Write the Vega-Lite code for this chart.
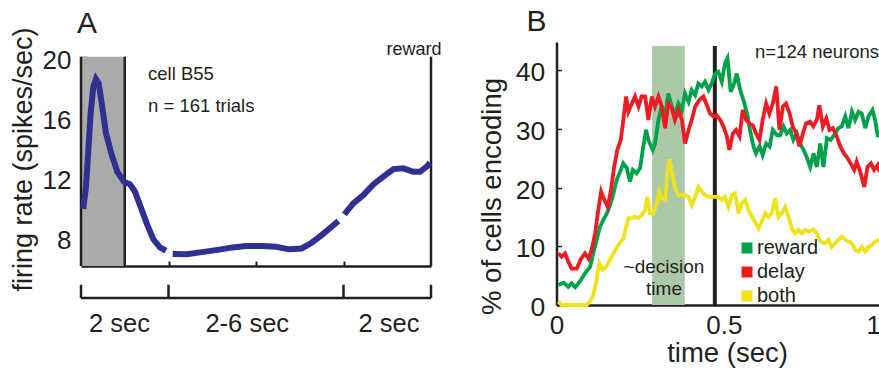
{
  "$schema": "https://vega.github.io/schema/vega-lite/v6.json",
  "autosize": "none",
  "padding": {"left": 81, "top": 42, "right": 798, "bottom": 329},
  "bounds": "flush",
  "spacing": 125.5,
  "config": {
    "view": {"stroke": null},
    "font": "Liberation Sans",
    "axis": {"grid": false, "labelFont": "Liberation Sans", "titleFont": "Liberation Sans", "labelColor": "#231f20", "titleColor": "#231f20", "tickColor": "#231f20", "domainColor": "#231f20", "titleFontWeight": "normal"},
    "title": {"font": "Liberation Sans", "fontWeight": "normal", "color": "#231f20"}
  },
  "datasets": {
    "cellB55": [
      {"seg": 1, "time": 0.025, "rate": 9.85}, {"seg": 1, "time": 0.057, "rate": 11.33}, {"seg": 1, "time": 0.084, "rate": 13.78}, {"seg": 1, "time": 0.110, "rate": 16.22}, {"seg": 1, "time": 0.141, "rate": 18.0}, {"seg": 1, "time": 0.171, "rate": 18.51}, {"seg": 1, "time": 0.202, "rate": 18.23}, {"seg": 1, "time": 0.237, "rate": 16.89}, {"seg": 1, "time": 0.286, "rate": 14.89}, {"seg": 1, "time": 0.351, "rate": 13.45}, {"seg": 1, "time": 0.415, "rate": 12.33}, {"seg": 1, "time": 0.491, "rate": 11.67}, {"seg": 1, "time": 0.56, "rate": 11.49}, {"seg": 1, "time": 0.617, "rate": 11.0}, {"seg": 1, "time": 0.674, "rate": 10.11}, {"seg": 1, "time": 0.751, "rate": 8.89}, {"seg": 1, "time": 0.827, "rate": 7.83}, {"seg": 1, "time": 0.903, "rate": 7.29}, {"seg": 1, "time": 0.971, "rate": 7.07},
      {"seg": 2, "time": 1.048, "rate": 6.85}, {"seg": 2, "time": 1.208, "rate": 6.83}, {"seg": 2, "time": 1.36, "rate": 6.96}, {"seg": 2, "time": 1.543, "rate": 7.11}, {"seg": 2, "time": 1.733, "rate": 7.29}, {"seg": 2, "time": 1.886, "rate": 7.38}, {"seg": 2, "time": 2.075, "rate": 7.38}, {"seg": 2, "time": 2.229, "rate": 7.33}, {"seg": 2, "time": 2.379, "rate": 7.16}, {"seg": 2, "time": 2.522, "rate": 7.22}, {"seg": 2, "time": 2.636, "rate": 7.6}, {"seg": 2, "time": 2.75, "rate": 8.11}, {"seg": 2, "time": 2.865, "rate": 8.67}, {"seg": 2, "time": 2.941, "rate": 9.05},
      {"seg": 3, "time": 3.01, "rate": 9.49}, {"seg": 3, "time": 3.112, "rate": 10.22}, {"seg": 3, "time": 3.227, "rate": 10.78}, {"seg": 3, "time": 3.341, "rate": 11.49}, {"seg": 3, "time": 3.455, "rate": 12.0}, {"seg": 3, "time": 3.57, "rate": 12.51}, {"seg": 3, "time": 3.684, "rate": 12.56}, {"seg": 3, "time": 3.798, "rate": 12.33}, {"seg": 3, "time": 3.874, "rate": 12.33}, {"seg": 3, "time": 3.951, "rate": 12.67}, {"seg": 3, "time": 3.989, "rate": 12.93}
    ],
    "encoding": [
      {"type": "reward", "t": 0.006, "pct": 3.4}, {"type": "reward", "t": 0.022, "pct": 3.8}, {"type": "reward", "t": 0.037, "pct": 3.1}, {"type": "reward", "t": 0.048, "pct": 3.7}, {"type": "reward", "t": 0.059, "pct": 3.0}, {"type": "reward", "t": 0.074, "pct": 4.0}, {"type": "reward", "t": 0.090, "pct": 5.4}, {"type": "reward", "t": 0.106, "pct": 6.5}, {"type": "reward", "t": 0.116, "pct": 8.8}, {"type": "reward", "t": 0.127, "pct": 11.1}, {"type": "reward", "t": 0.137, "pct": 13.3}, {"type": "reward", "t": 0.148, "pct": 14.5}, {"type": "reward", "t": 0.159, "pct": 15.6}, {"type": "reward", "t": 0.169, "pct": 17.0}, {"type": "reward", "t": 0.180, "pct": 19.0}, {"type": "reward", "t": 0.190, "pct": 21.3}, {"type": "reward", "t": 0.201, "pct": 22.7}, {"type": "reward", "t": 0.211, "pct": 24.1}, {"type": "reward", "t": 0.222, "pct": 23.3}, {"type": "reward", "t": 0.232, "pct": 21.0}, {"type": "reward", "t": 0.241, "pct": 23.0}, {"type": "reward", "t": 0.253, "pct": 22.4}, {"type": "reward", "t": 0.264, "pct": 23.3}, {"type": "reward", "t": 0.274, "pct": 27.0}, {"type": "reward", "t": 0.283, "pct": 29.8}, {"type": "reward", "t": 0.290, "pct": 28.1}, {"type": "reward", "t": 0.304, "pct": 26.4}, {"type": "reward", "t": 0.311, "pct": 27.5}, {"type": "reward", "t": 0.322, "pct": 31.5}, {"type": "reward", "t": 0.332, "pct": 33.8}, {"type": "reward", "t": 0.343, "pct": 32.1}, {"type": "reward", "t": 0.353, "pct": 36.0}, {"type": "reward", "t": 0.364, "pct": 33.8}, {"type": "reward", "t": 0.374, "pct": 32.3}, {"type": "reward", "t": 0.385, "pct": 34.3}, {"type": "reward", "t": 0.396, "pct": 33.2}, {"type": "reward", "t": 0.406, "pct": 36.0}, {"type": "reward", "t": 0.417, "pct": 34.6}, {"type": "reward", "t": 0.427, "pct": 36.6}, {"type": "reward", "t": 0.438, "pct": 35.7}, {"type": "reward", "t": 0.448, "pct": 37.7}, {"type": "reward", "t": 0.459, "pct": 37.2}, {"type": "reward", "t": 0.469, "pct": 38.0}, {"type": "reward", "t": 0.480, "pct": 36.6}, {"type": "reward", "t": 0.490, "pct": 37.7}, {"type": "reward", "t": 0.501, "pct": 39.4}, {"type": "reward", "t": 0.511, "pct": 39.7}, {"type": "reward", "t": 0.522, "pct": 38.0}, {"type": "reward", "t": 0.532, "pct": 41.1}, {"type": "reward", "t": 0.540, "pct": 42.0}, {"type": "reward", "t": 0.550, "pct": 36.3}, {"type": "reward", "t": 0.561, "pct": 37.7}, {"type": "reward", "t": 0.569, "pct": 39.4}, {"type": "reward", "t": 0.580, "pct": 36.6}, {"type": "reward", "t": 0.592, "pct": 34.6}, {"type": "reward", "t": 0.603, "pct": 32.3}, {"type": "reward", "t": 0.611, "pct": 29.8}, {"type": "reward", "t": 0.622, "pct": 27.0}, {"type": "reward", "t": 0.630, "pct": 25.8}, {"type": "reward", "t": 0.641, "pct": 27.0}, {"type": "reward", "t": 0.651, "pct": 25.5}, {"type": "reward", "t": 0.662, "pct": 27.5}, {"type": "reward", "t": 0.673, "pct": 27.0}, {"type": "reward", "t": 0.683, "pct": 29.8}, {"type": "reward", "t": 0.696, "pct": 28.9}, {"type": "reward", "t": 0.706, "pct": 28.9}, {"type": "reward", "t": 0.717, "pct": 30.4}, {"type": "reward", "t": 0.727, "pct": 29.2}, {"type": "reward", "t": 0.738, "pct": 29.8}, {"type": "reward", "t": 0.748, "pct": 28.1}, {"type": "reward", "t": 0.759, "pct": 29.2}, {"type": "reward", "t": 0.769, "pct": 27.5}, {"type": "reward", "t": 0.780, "pct": 26.4}, {"type": "reward", "t": 0.790, "pct": 25.2}, {"type": "reward", "t": 0.801, "pct": 23.5}, {"type": "reward", "t": 0.812, "pct": 25.8}, {"type": "reward", "t": 0.822, "pct": 23.5}, {"type": "reward", "t": 0.833, "pct": 27.5}, {"type": "reward", "t": 0.843, "pct": 23.5}, {"type": "reward", "t": 0.854, "pct": 28.4}, {"type": "reward", "t": 0.866, "pct": 28.1}, {"type": "reward", "t": 0.880, "pct": 29.2}, {"type": "reward", "t": 0.890, "pct": 30.1}, {"type": "reward", "t": 0.901, "pct": 30.4}, {"type": "reward", "t": 0.912, "pct": 32.1}, {"type": "reward", "t": 0.922, "pct": 30.1}, {"type": "reward", "t": 0.933, "pct": 32.9}, {"type": "reward", "t": 0.943, "pct": 31.5}, {"type": "reward", "t": 0.954, "pct": 32.9}, {"type": "reward", "t": 0.964, "pct": 32.6}, {"type": "reward", "t": 0.975, "pct": 30.1}, {"type": "reward", "t": 0.985, "pct": 32.1}, {"type": "reward", "t": 0.998, "pct": 33.2}, {"type": "reward", "t": 1.006, "pct": 31.5}, {"type": "reward", "t": 1.014, "pct": 28.9}, {"type": "reward", "t": 1.020, "pct": 28.9},
      {"type": "delay", "t": 0.006, "pct": 8.8}, {"type": "delay", "t": 0.016, "pct": 8.2}, {"type": "delay", "t": 0.027, "pct": 8.8}, {"type": "delay", "t": 0.037, "pct": 7.4}, {"type": "delay", "t": 0.048, "pct": 6.2}, {"type": "delay", "t": 0.064, "pct": 6.2}, {"type": "delay", "t": 0.076, "pct": 7.7}, {"type": "delay", "t": 0.090, "pct": 8.8}, {"type": "delay", "t": 0.101, "pct": 7.9}, {"type": "delay", "t": 0.111, "pct": 9.4}, {"type": "delay", "t": 0.122, "pct": 12.2}, {"type": "delay", "t": 0.132, "pct": 16.2}, {"type": "delay", "t": 0.141, "pct": 19.3}, {"type": "delay", "t": 0.151, "pct": 17.9}, {"type": "delay", "t": 0.162, "pct": 16.7}, {"type": "delay", "t": 0.172, "pct": 19.6}, {"type": "delay", "t": 0.182, "pct": 23.5}, {"type": "delay", "t": 0.192, "pct": 26.4}, {"type": "delay", "t": 0.203, "pct": 28.1}, {"type": "delay", "t": 0.211, "pct": 31.5}, {"type": "delay", "t": 0.220, "pct": 35.5}, {"type": "delay", "t": 0.227, "pct": 32.9}, {"type": "delay", "t": 0.238, "pct": 34.3}, {"type": "delay", "t": 0.248, "pct": 35.5}, {"type": "delay", "t": 0.259, "pct": 33.8}, {"type": "delay", "t": 0.269, "pct": 35.5}, {"type": "delay", "t": 0.280, "pct": 35.5}, {"type": "delay", "t": 0.290, "pct": 31.5}, {"type": "delay", "t": 0.301, "pct": 35.5}, {"type": "delay", "t": 0.311, "pct": 33.8}, {"type": "delay", "t": 0.322, "pct": 35.5}, {"type": "delay", "t": 0.332, "pct": 33.8}, {"type": "delay", "t": 0.343, "pct": 30.1}, {"type": "delay", "t": 0.353, "pct": 34.3}, {"type": "delay", "t": 0.364, "pct": 33.5}, {"type": "delay", "t": 0.374, "pct": 31.5}, {"type": "delay", "t": 0.385, "pct": 33.2}, {"type": "delay", "t": 0.396, "pct": 31.5}, {"type": "delay", "t": 0.406, "pct": 27.5}, {"type": "delay", "t": 0.417, "pct": 29.8}, {"type": "delay", "t": 0.427, "pct": 31.5}, {"type": "delay", "t": 0.438, "pct": 33.8}, {"type": "delay", "t": 0.451, "pct": 34.9}, {"type": "delay", "t": 0.464, "pct": 35.5}, {"type": "delay", "t": 0.475, "pct": 34.0}, {"type": "delay", "t": 0.485, "pct": 32.6}, {"type": "delay", "t": 0.496, "pct": 32.1}, {"type": "delay", "t": 0.506, "pct": 32.3}, {"type": "delay", "t": 0.517, "pct": 31.5}, {"type": "delay", "t": 0.527, "pct": 30.4}, {"type": "delay", "t": 0.538, "pct": 28.7}, {"type": "delay", "t": 0.546, "pct": 26.4}, {"type": "delay", "t": 0.557, "pct": 29.2}, {"type": "delay", "t": 0.567, "pct": 29.8}, {"type": "delay", "t": 0.578, "pct": 28.7}, {"type": "delay", "t": 0.588, "pct": 33.2}, {"type": "delay", "t": 0.599, "pct": 31.5}, {"type": "delay", "t": 0.609, "pct": 30.9}, {"type": "delay", "t": 0.620, "pct": 30.6}, {"type": "delay", "t": 0.630, "pct": 29.2}, {"type": "delay", "t": 0.641, "pct": 28.1}, {"type": "delay", "t": 0.651, "pct": 31.5}, {"type": "delay", "t": 0.662, "pct": 34.3}, {"type": "delay", "t": 0.672, "pct": 32.6}, {"type": "delay", "t": 0.683, "pct": 34.3}, {"type": "delay", "t": 0.694, "pct": 37.2}, {"type": "delay", "t": 0.704, "pct": 29.8}, {"type": "delay", "t": 0.715, "pct": 33.8}, {"type": "delay", "t": 0.725, "pct": 34.3}, {"type": "delay", "t": 0.736, "pct": 32.6}, {"type": "delay", "t": 0.746, "pct": 30.4}, {"type": "delay", "t": 0.757, "pct": 29.2}, {"type": "delay", "t": 0.767, "pct": 27.0}, {"type": "delay", "t": 0.778, "pct": 29.2}, {"type": "delay", "t": 0.788, "pct": 30.9}, {"type": "delay", "t": 0.801, "pct": 31.2}, {"type": "delay", "t": 0.811, "pct": 30.4}, {"type": "delay", "t": 0.822, "pct": 31.5}, {"type": "delay", "t": 0.830, "pct": 34.0}, {"type": "delay", "t": 0.841, "pct": 30.4}, {"type": "delay", "t": 0.852, "pct": 31.8}, {"type": "delay", "t": 0.862, "pct": 29.8}, {"type": "delay", "t": 0.873, "pct": 30.1}, {"type": "delay", "t": 0.885, "pct": 28.7}, {"type": "delay", "t": 0.896, "pct": 27.0}, {"type": "delay", "t": 0.908, "pct": 25.8}, {"type": "delay", "t": 0.919, "pct": 25.0}, {"type": "delay", "t": 0.929, "pct": 24.1}, {"type": "delay", "t": 0.940, "pct": 23.0}, {"type": "delay", "t": 0.948, "pct": 24.4}, {"type": "delay", "t": 0.959, "pct": 22.7}, {"type": "delay", "t": 0.972, "pct": 20.1}, {"type": "delay", "t": 0.982, "pct": 23.5}, {"type": "delay", "t": 0.993, "pct": 24.1}, {"type": "delay", "t": 1.003, "pct": 23.0}, {"type": "delay", "t": 1.014, "pct": 23.8}, {"type": "delay", "t": 1.020, "pct": 22.7},
      {"type": "both", "t": 0.006, "pct": 0.6}, {"type": "both", "t": 0.016, "pct": 0.0}, {"type": "both", "t": 0.032, "pct": 0.0}, {"type": "both", "t": 0.095, "pct": 0.0}, {"type": "both", "t": 0.106, "pct": 0.6}, {"type": "both", "t": 0.116, "pct": 1.7}, {"type": "both", "t": 0.127, "pct": 4.3}, {"type": "both", "t": 0.135, "pct": 7.1}, {"type": "both", "t": 0.146, "pct": 6.0}, {"type": "both", "t": 0.156, "pct": 6.5}, {"type": "both", "t": 0.169, "pct": 7.7}, {"type": "both", "t": 0.180, "pct": 8.8}, {"type": "both", "t": 0.192, "pct": 9.9}, {"type": "both", "t": 0.203, "pct": 10.8}, {"type": "both", "t": 0.211, "pct": 11.3}, {"type": "both", "t": 0.220, "pct": 13.3}, {"type": "both", "t": 0.227, "pct": 14.8}, {"type": "both", "t": 0.238, "pct": 14.8}, {"type": "both", "t": 0.248, "pct": 15.0}, {"type": "both", "t": 0.259, "pct": 14.8}, {"type": "both", "t": 0.269, "pct": 15.3}, {"type": "both", "t": 0.280, "pct": 16.2}, {"type": "both", "t": 0.287, "pct": 18.4}, {"type": "both", "t": 0.295, "pct": 15.6}, {"type": "both", "t": 0.306, "pct": 15.6}, {"type": "both", "t": 0.317, "pct": 17.3}, {"type": "both", "t": 0.325, "pct": 19.3}, {"type": "both", "t": 0.332, "pct": 18.2}, {"type": "both", "t": 0.343, "pct": 17.9}, {"type": "both", "t": 0.350, "pct": 22.4}, {"type": "both", "t": 0.357, "pct": 24.8}, {"type": "both", "t": 0.364, "pct": 22.7}, {"type": "both", "t": 0.374, "pct": 20.1}, {"type": "both", "t": 0.385, "pct": 18.7}, {"type": "both", "t": 0.396, "pct": 18.7}, {"type": "both", "t": 0.406, "pct": 18.7}, {"type": "both", "t": 0.417, "pct": 18.4}, {"type": "both", "t": 0.427, "pct": 17.0}, {"type": "both", "t": 0.438, "pct": 18.4}, {"type": "both", "t": 0.448, "pct": 20.1}, {"type": "both", "t": 0.459, "pct": 19.3}, {"type": "both", "t": 0.469, "pct": 18.7}, {"type": "both", "t": 0.480, "pct": 18.4}, {"type": "both", "t": 0.496, "pct": 18.4}, {"type": "both", "t": 0.511, "pct": 18.4}, {"type": "both", "t": 0.522, "pct": 17.9}, {"type": "both", "t": 0.532, "pct": 18.4}, {"type": "both", "t": 0.543, "pct": 16.7}, {"type": "both", "t": 0.554, "pct": 18.7}, {"type": "both", "t": 0.564, "pct": 19.0}, {"type": "both", "t": 0.575, "pct": 15.6}, {"type": "both", "t": 0.585, "pct": 17.3}, {"type": "both", "t": 0.596, "pct": 17.9}, {"type": "both", "t": 0.606, "pct": 16.2}, {"type": "both", "t": 0.617, "pct": 15.0}, {"type": "both", "t": 0.627, "pct": 14.2}, {"type": "both", "t": 0.638, "pct": 13.0}, {"type": "both", "t": 0.648, "pct": 14.2}, {"type": "both", "t": 0.659, "pct": 15.6}, {"type": "both", "t": 0.669, "pct": 15.0}, {"type": "both", "t": 0.680, "pct": 15.6}, {"type": "both", "t": 0.690, "pct": 18.2}, {"type": "both", "t": 0.701, "pct": 15.0}, {"type": "both", "t": 0.711, "pct": 15.6}, {"type": "both", "t": 0.722, "pct": 16.7}, {"type": "both", "t": 0.733, "pct": 15.0}, {"type": "both", "t": 0.743, "pct": 13.0}, {"type": "both", "t": 0.754, "pct": 12.2}, {"type": "both", "t": 0.764, "pct": 12.8}, {"type": "both", "t": 0.775, "pct": 12.2}, {"type": "both", "t": 0.785, "pct": 12.8}, {"type": "both", "t": 0.796, "pct": 12.5}, {"type": "both", "t": 0.812, "pct": 12.8}, {"type": "both", "t": 0.822, "pct": 12.2}, {"type": "both", "t": 0.833, "pct": 10.8}, {"type": "both", "t": 0.848, "pct": 10.5}, {"type": "both", "t": 0.859, "pct": 11.1}, {"type": "both", "t": 0.869, "pct": 9.9}, {"type": "both", "t": 0.880, "pct": 10.5}, {"type": "both", "t": 0.890, "pct": 11.1}, {"type": "both", "t": 0.901, "pct": 11.6}, {"type": "both", "t": 0.912, "pct": 11.1}, {"type": "both", "t": 0.922, "pct": 10.8}, {"type": "both", "t": 0.933, "pct": 10.5}, {"type": "both", "t": 0.943, "pct": 9.4}, {"type": "both", "t": 0.954, "pct": 9.1}, {"type": "both", "t": 0.964, "pct": 9.9}, {"type": "both", "t": 0.975, "pct": 9.1}, {"type": "both", "t": 0.985, "pct": 9.9}, {"type": "both", "t": 0.996, "pct": 10.2}, {"type": "both", "t": 1.006, "pct": 10.8}, {"type": "both", "t": 1.020, "pct": 11.1}
    ]
  },
  "hconcat": [
    {
      "width": 350,
      "height": 224,
      "title": {"text": "A", "anchor": "start", "frame": "group", "fontSize": 30, "dx": -4, "offset": -36.5, "baseline": "alphabetic"},
      "layer": [
        {
          "data": {"values": [{"from": 0, "to": 0.5}]},
          "mark": {"type": "rect", "color": "#aaaaaa"},
          "encoding": {
            "x": {"field": "from", "type": "quantitative"},
            "x2": {"field": "to"},
            "y": {"datum": 6.05, "type": "quantitative"},
            "y2": {"datum": 20}
          }
        },
        {
          "data": {"values": [{"at": 0}, {"at": 0.5}, {"at": 4}]},
          "mark": {"type": "rule", "color": "#231f20", "strokeWidth": 2.5},
          "encoding": {
            "x": {"field": "at", "type": "quantitative"},
            "y": {"datum": 6.05, "type": "quantitative"},
            "y2": {"datum": 20}
          }
        },
        {
          "data": {"values": [{"at": 0}, {"at": 1}, {"at": 3}, {"at": 4}]},
          "mark": {"type": "rule", "color": "#231f20", "strokeWidth": 2.5},
          "encoding": {
            "x": {"field": "at", "type": "quantitative"},
            "y": {"datum": 3.91, "type": "quantitative"},
            "y2": {"datum": 4.8}
          }
        },
        {
          "data": {"values": [{"from": 0, "to": 4}]},
          "mark": {"type": "rule", "color": "#231f20", "strokeWidth": 2.5},
          "encoding": {
            "x": {"field": "from", "type": "quantitative"},
            "x2": {"field": "to"},
            "y": {"datum": 3.91, "type": "quantitative"}
          }
        },
        {
          "data": {"name": "cellB55"},
          "mark": {"type": "line", "color": "#2e3192", "strokeWidth": 6},
          "encoding": {
            "x": {
              "field": "time", "type": "quantitative",
              "scale": {"domain": [0, 4], "nice": false, "zero": false},
              "axis": {"values": [1, 2, 3], "labels": false, "tickSize": -5, "tickWidth": 2, "domainWidth": 2.5, "title": null}
            },
            "y": {
              "field": "rate", "type": "quantitative",
              "scale": {"domain": [6.05, 20.98], "nice": false, "zero": false},
              "axis": {
                "values": [8, 10, 12, 14, 16, 18, 20],
                "labelExpr": "datum.value % 4 == 0 ? datum.label : ''",
                "domain": false, "tickSize": -6, "tickWidth": 1.5,
                "labelPadding": 16, "labelOffset": 3.5, "labelFontSize": 26,
                "title": "firing rate (spikes/sec)", "titleFontSize": 27,
                "titleX": -49.3, "titleY": 117, "titleAngle": 270, "titleAlign": "center", "titleBaseline": "alphabetic"
              }
            },
            "detail": {"field": "seg", "type": "nominal"}
          }
        },
        {
          "data": {"values": [{"note": "cell B55", "time": 0.766, "rate": 18.45}, {"note": "n = 161 trials", "time": 0.766, "rate": 16.33}]},
          "mark": {"type": "text", "align": "left", "baseline": "alphabetic", "fontSize": 18.5, "color": "#231f20", "font": "Liberation Sans"},
          "encoding": {
            "x": {"field": "time", "type": "quantitative"},
            "y": {"field": "rate", "type": "quantitative"},
            "text": {"field": "note"}
          }
        },
        {
          "data": {"values": [{"note": "reward", "time": 3.806, "rate": 20.11}]},
          "mark": {"type": "text", "align": "center", "baseline": "alphabetic", "fontSize": 18, "color": "#231f20", "font": "Liberation Sans"},
          "encoding": {
            "x": {"field": "time", "type": "quantitative"},
            "y": {"field": "rate", "type": "quantitative"},
            "text": {"field": "note"}
          }
        },
        {
          "data": {"values": [{"note": "2 sec", "time": 0.44, "rate": 1.65}, {"note": "2-6 sec", "time": 1.9, "rate": 1.65}, {"note": "2 sec", "time": 3.52, "rate": 1.65}]},
          "mark": {"type": "text", "align": "center", "baseline": "alphabetic", "fontSize": 25.5, "color": "#231f20", "font": "Liberation Sans"},
          "encoding": {
            "x": {"field": "time", "type": "quantitative"},
            "y": {"field": "rate", "type": "quantitative"},
            "text": {"field": "note"}
          }
        }
      ]
    },
    {
      "width": 323,
      "height": 263,
      "title": {"text": "B", "anchor": "start", "frame": "group", "fontSize": 30, "dx": -30, "offset": -19, "baseline": "alphabetic"},
      "layer": [
        {
          "data": {"values": [{"from": 0.302, "to": 0.405}]},
          "mark": {"type": "rect", "color": "#abc9a6"},
          "encoding": {
            "x": {"field": "from", "type": "quantitative"},
            "x2": {"field": "to"},
            "y": {"datum": 0, "type": "quantitative"},
            "y2": {"datum": 44.1}
          }
        },
        {
          "data": {"values": [{"at": 0.5}]},
          "mark": {"type": "rule", "color": "#231f20", "strokeWidth": 4},
          "encoding": {
            "x": {"field": "at", "type": "quantitative"},
            "y": {"datum": 0, "type": "quantitative"},
            "y2": {"datum": 44.1}
          }
        },
        {
          "data": {"name": "encoding"},
          "mark": {"type": "line", "strokeWidth": 3.8},
          "encoding": {
            "x": {
              "field": "t", "type": "quantitative",
              "scale": {"domain": [0, 1.02], "nice": false, "zero": false},
              "axis": {
                "values": [0, 0.5, 1], "format": "~g", "ticks": false, "domainWidth": 2.5,
                "labelFontSize": 26, "labelPadding": 28.3, "labelBaseline": "alphabetic", "labelFlush": false,
                "labelOffset": {"condition": {"test": "datum.value == 0.5", "value": 9}, "value": 0},
                "title": "time (sec)", "titleFontSize": 27.5, "titleX": 170.5, "titleY": 56.7, "titleBaseline": "alphabetic", "titleAlign": "center"
              }
            },
            "y": {
              "field": "pct", "type": "quantitative",
              "scale": {"domain": [0, 44.77], "nice": false, "zero": false},
              "axis": {
                "values": [0, 5, 10, 15, 20, 25, 30, 35, 40],
                "labelExpr": "datum.value % 10 == 0 ? datum.label : ''",
                "tickSize": -5, "tickWidth": 1.5, "domainWidth": 2.5,
                "labelPadding": 16.7, "labelOffset": 2.5, "labelFontSize": 26.5,
                "title": "% of cells encoding", "titleFontSize": 27.5,
                "titleX": -56.5, "titleY": 154, "titleAngle": 270, "titleAlign": "center", "titleBaseline": "alphabetic"
              }
            },
            "color": {
              "field": "type", "type": "nominal",
              "scale": {"domain": ["reward", "delay", "both"], "range": ["#00a14b", "#ed1c24", "#eee21c"]},
              "legend": {
                "orient": "none", "legendX": 656, "legendY": 196, "title": null,
                "symbolType": "square", "symbolSize": 121, "symbolStrokeWidth": 0,
                "labelFontSize": 20, "labelFont": "Liberation Sans", "labelColor": "#231f20", "labelOffset": 0, "rowPadding": 4,
                "encode": {"symbols": {"update": {"fill": {"scale": "color", "field": "value"}, "fillOpacity": {"value": 1}, "opacity": {"value": 1}}}}
              }
            }
          }
        },
        {
          "data": {"values": [{"note": "n=124 neurons", "t": 0.627, "pct": 42.04}]},
          "mark": {"type": "text", "align": "left", "baseline": "alphabetic", "fontSize": 18.5, "color": "#231f20", "font": "Liberation Sans"},
          "encoding": {
            "x": {"field": "t", "type": "quantitative"},
            "y": {"field": "pct", "type": "quantitative"},
            "text": {"field": "note"}
          }
        },
        {
          "data": {"values": [{"note": "~decision", "t": 0.3395, "pct": 5.45}, {"note": "time", "t": 0.3395, "pct": 1.7}]},
          "mark": {"type": "text", "align": "center", "baseline": "alphabetic", "fontSize": 19, "color": "#231f20", "font": "Liberation Sans"},
          "encoding": {
            "x": {"field": "t", "type": "quantitative"},
            "y": {"field": "pct", "type": "quantitative"},
            "text": {"field": "note"}
          }
        }
      ]
    }
  ]
}
